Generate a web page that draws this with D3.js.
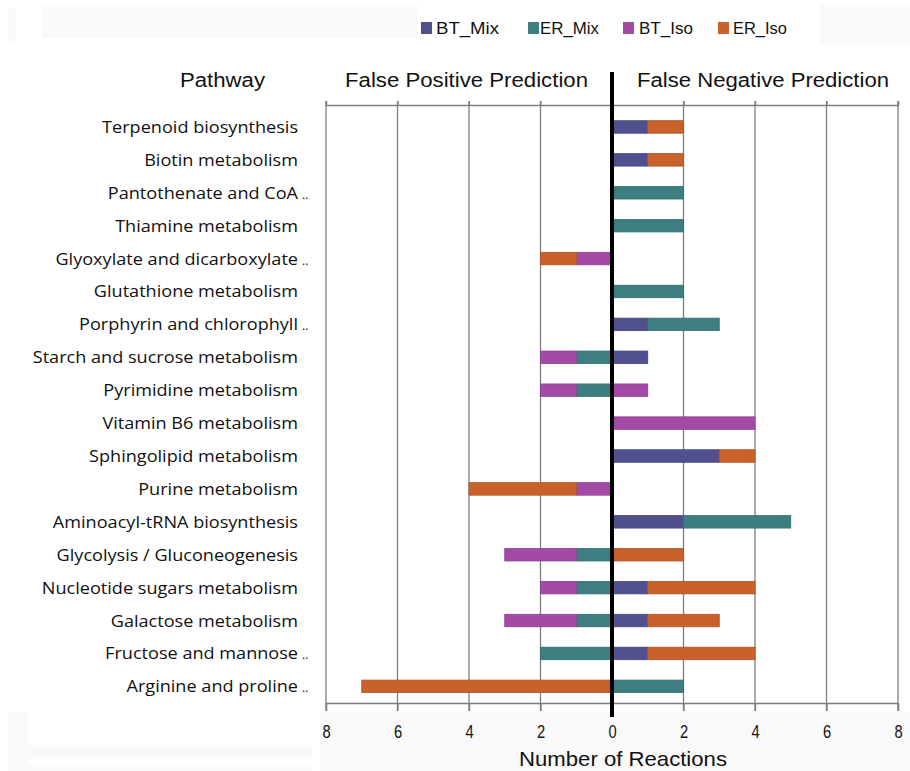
<!DOCTYPE html>
<html>
<head>
<meta charset="utf-8">
<script src="https://cdn.jsdelivr.net/npm/d3@7"></script>
<style>
  html, body { margin: 0; padding: 0; background: #ffffff; }
  svg { display: block; }
</style>
</head>
<body>
<svg id="chart" width="910" height="771"></svg>
<script>
// Pathways, top to bottom
const categories = [
  "Terpenoid biosynthesis",
  "Biotin metabolism",
  "Pantothenate and CoA ..",
  "Thiamine metabolism",
  "Glyoxylate and dicarboxylate ..",
  "Glutathione metabolism",
  "Porphyrin and chlorophyll..",
  "Starch and sucrose metabolism",
  "Pyrimidine metabolism",
  "Vitamin B6 metabolism",
  "Sphingolipid metabolism",
  "Purine metabolism",
  "Aminoacyl-tRNA biosynthesis",
  "Glycolysis / Gluconeogenesis",
  "Nucleotide sugars metabolism",
  "Galactose metabolism",
  "Fructose and mannose ..",
  "Arginine and proline.."
];

const seriesNames = ["BT_Mix", "ER_Mix", "BT_Iso", "ER_Iso"];
const seriesColors = ["#50508e", "#3d7f80", "#a24aa6", "#c9612a"];

// False positive predictions (drawn to the left of zero)
const fpBTMix = [0,0,0,0,0,0,0,0,0,0,0,0,0,0,0,0,0,0];
const fpERMix = [0,0,0,0,0,0,0,1,1,0,0,0,0,1,1,1,2,0];
const fpBTIso = [0,0,0,0,1,0,0,1,1,0,0,1,0,2,1,2,0,0];
const fpERIso = [0,0,0,0,1,0,0,0,0,0,0,3,0,0,0,0,0,7];

// False negative predictions (drawn to the right of zero)
const fnBTMix = [1,1,0,0,0,0,1,1,0,0,3,0,2,0,1,1,1,0];
const fnERMix = [0,0,2,2,0,2,2,0,0,0,0,0,3,0,0,0,0,2];
const fnBTIso = [0,0,0,0,0,0,0,0,1,4,0,0,0,0,0,0,0,0];
const fnERIso = [1,1,0,0,0,0,0,0,0,0,1,0,0,2,3,2,3,0];

const tickValues = [-8,-6,-4,-2,0,2,4,6,8];
const tickLabels = ["8","6","4","2","0","2","4","6","8"];

const svg = d3.select("#chart");

// faint background panels
const panels = [
  [42, 5, 375, 33], [8, 8, 8, 35], [820, 5, 90, 40],
  [8, 712, 20, 59], [28, 745, 284, 14], [28, 765, 284, 6], [320, 712, 590, 59]
];
svg.selectAll("rect.panel").data(panels).join("rect")
  .attr("class", "panel")
  .attr("x", d => d[0]).attr("y", d => d[1])
  .attr("width", d => d[2]).attr("height", d => d[3])
  .attr("fill", "#f9f9f9");

const x = d3.scaleLinear().domain([-8, 8]).range([326, 898]);
const y = d3.scalePoint().domain(categories).range([110.5, 702.8]).padding(0.5);
const barH = 12.5;
const axisTop = 105, axisBottom = 703;

// helper: squeeze text horizontally to a given width
function fitText(sel, width) {
  sel.each(function() {
    const len = this.getComputedTextLength();
    if (len > 0) {
      d3.select(this).attr("textLength", width).attr("lengthAdjust", "spacingAndGlyphs");
    }
  });
}

// gridlines
svg.append("g").selectAll("line").data(tickValues.filter(v => v !== 0)).join("line")
  .attr("x1", d => x(d)).attr("x2", d => x(d))
  .attr("y1", axisTop - 4).attr("y2", axisBottom + 8)
  .attr("stroke", "#7d7d7d").attr("stroke-width", 1.3);

// top axis line
const topAxis = svg.append("g").attr("transform", `translate(0,${axisTop})`)
  .call(d3.axisTop(x).tickValues(tickValues).tickSize(4).tickFormat(""));
topAxis.select(".domain").attr("stroke", "#7d7d7d").attr("stroke-width", 1.3);
topAxis.selectAll(".tick line").attr("stroke", "#7d7d7d").attr("stroke-width", 1.3);

// bottom axis
const bottomAxis = svg.append("g").attr("transform", `translate(0,${axisBottom})`)
  .call(d3.axisBottom(x).tickValues(tickValues).tickSize(8)
    .tickFormat((d, i) => tickLabels[i]));
bottomAxis.select(".domain").attr("stroke", "#7d7d7d").attr("stroke-width", 1.3);
bottomAxis.selectAll(".tick line").attr("stroke", "#7d7d7d").attr("stroke-width", 1.3);
bottomAxis.selectAll(".tick text")
  .attr("y", 35).attr("dy", 0)
  .attr("fill", "#111")
  .attr("transform", "scale(0.82,1)")
  .style("font-family", "'Liberation Sans', Arial, sans-serif")
  .style("font-size", "18px");
bottomAxis.selectAll(".tick").each(function(d) {
  d3.select(this).select("text").attr("transform", null)
    .attr("transform", "scale(0.82,1)");
});

// stacked bars
const fp = [fpBTMix, fpERMix, fpBTIso, fpERIso];
const fn = [fnBTMix, fnERMix, fnBTIso, fnERIso];
const segments = [];
categories.forEach((c, i) => {
  let left = 0, right = 0;
  seriesNames.forEach((s, k) => {
    const a = fp[k][i];
    if (a > 0) { segments.push({cat: c, k, x0: -(left + a), x1: -left}); left += a; }
    const b = fn[k][i];
    if (b > 0) { segments.push({cat: c, k, x0: right, x1: right + b}); right += b; }
  });
});
svg.append("g").selectAll("rect").data(segments).join("rect")
  .attr("x", d => x(d.x0))
  .attr("width", d => x(d.x1) - x(d.x0))
  .attr("y", d => y(d.cat) - barH / 2)
  .attr("height", barH)
  .attr("fill", d => seriesColors[d.k])
  .attr("stroke", d => d3.color(seriesColors[d.k]).darker(0.4))
  .attr("stroke-width", 0.8);

// zero line
svg.append("line")
  .attr("x1", x(0)).attr("x2", x(0))
  .attr("y1", 72).attr("y2", 717)
  .attr("stroke", "#000").attr("stroke-width", 4);

// category labels
const labelFont = "'Open Sans', 'Noto Sans', sans-serif";
const lab = svg.append("g").selectAll("g").data(categories).join("g")
  .attr("transform", d => `translate(298,${y(d) + 6})`);
const labText = lab.append("text")
  .attr("text-anchor", "end")
  .style("font-family", labelFont)
  .style("font-size", "16.5px")
  .attr("fill", "#111")
  .text(d => d.replace(/\s*\.\.$/, ""));
// squeeze labels to the narrower face
const refNode = labText.filter(d => d === "Terpenoid biosynthesis").node();
const k = 196 / refNode.getComputedTextLength();
labText.attr("transform", `scale(${k},1)`);
lab.filter(d => d.endsWith("..")).append("text")
  .attr("x", 4)
  .style("font-family", labelFont)
  .style("font-size", "12px")
  .attr("fill", "#111")
  .text("..");

// headers
const headFont = "'Liberation Sans', Arial, sans-serif";
const headers = [
  {t: "Pathway", x: 180, w: 85},
  {t: "False Positive Prediction", x: 345, w: 243},
  {t: "False Negative Prediction", x: 637, w: 252}
];
svg.append("g").selectAll("text").data(headers).join("text")
  .attr("x", d => d.x).attr("y", 87)
  .style("font-family", headFont).style("font-size", "20px")
  .attr("fill", "#111")
  .text(d => d.t)
  .each(function(d) { fitText(d3.select(this), d.w); });

// axis title
svg.append("text")
  .attr("x", 519).attr("y", 766)
  .style("font-family", headFont).style("font-size", "21px")
  .attr("fill", "#111")
  .text("Number of Reactions")
  .call(fitText, 208);

// legend
const legendPos = [
  {sx: 421, tx: 436, w: 63},
  {sx: 528, tx: 540, w: 59},
  {sx: 623, tx: 639, w: 54},
  {sx: 718, tx: 733, w: 54}
];
const leg = svg.append("g").selectAll("g").data(seriesNames).join("g");
leg.append("rect")
  .attr("x", (d, i) => legendPos[i].sx).attr("y", 22)
  .attr("width", 11).attr("height", 12)
  .attr("fill", (d, i) => seriesColors[i]);
leg.append("text")
  .attr("x", (d, i) => legendPos[i].tx).attr("y", 34)
  .style("font-family", headFont).style("font-size", "17px")
  .attr("fill", "#111")
  .text(d => d)
  .each(function(d, i) { fitText(d3.select(this), legendPos[i].w); });
</script>
</body>
</html>
